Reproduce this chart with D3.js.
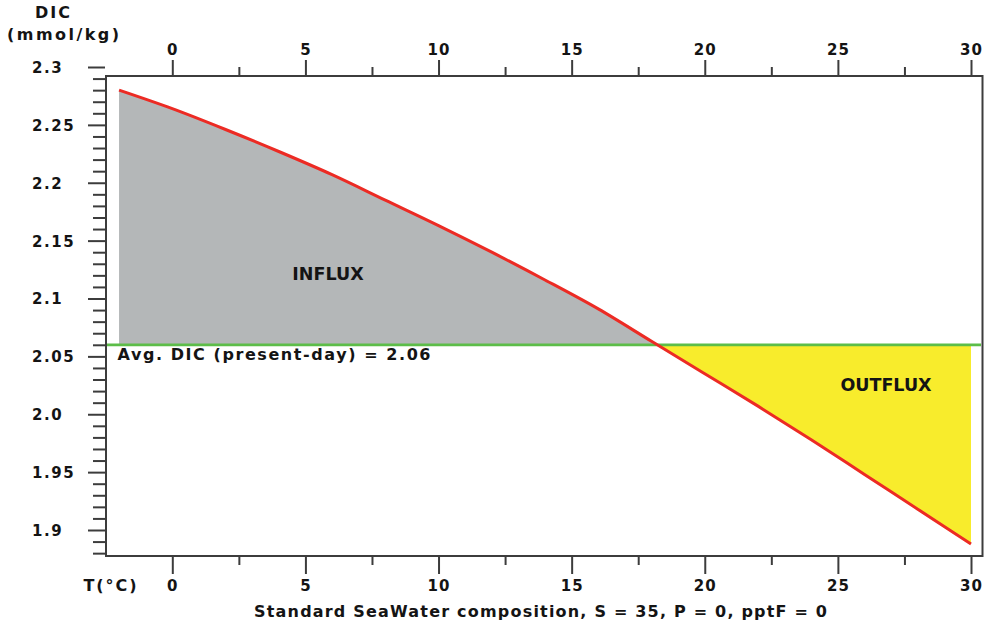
<!DOCTYPE html>
<html>
<head>
<meta charset="utf-8">
<script src="https://cdn.jsdelivr.net/npm/d3@7/dist/d3.min.js"></script>
<style>
  html, body { margin: 0; padding: 0; background: #ffffff; }
  svg { display: block; }
  text { font-family: "DejaVu Sans", Verdana, sans-serif; font-weight: bold; fill: #141414; }
</style>
</head>
<body>
<svg id="chart" width="988" height="626"></svg>
<script>
// Saturation DIC of standard seawater versus temperature
const temperatures = [-2, 0, 2, 4, 6, 8, 10, 12, 14, 16, 18, 20, 22, 24, 26, 28, 30];
const dicValues = [2.280, 2.264, 2.246, 2.227, 2.207, 2.185, 2.163, 2.140, 2.116, 2.091,
                   2.063, 2.035, 2.007, 1.978, 1.948, 1.918, 1.888];
const avgDIC = 2.06;

const xTickValues = [0, 5, 10, 15, 20, 25, 30];
const xMinorValues = [2.5, 7.5, 12.5, 17.5, 22.5, 27.5];
const yTickValues = [2.3, 2.25, 2.2, 2.15, 2.1, 2.05, 2.0, 1.95, 1.9];
const yTickLabels = ["2.3", "2.25", "2.2", "2.15", "2.1", "2.05", "2.0", "1.95", "1.9"];
const yMinorValues = [2.29, 2.28, 2.27, 2.26, 2.24, 2.23, 2.22, 2.21, 2.19, 2.18, 2.17, 2.16,
                      2.14, 2.13, 2.12, 2.11, 2.09, 2.08, 2.07, 2.06, 2.04, 2.03, 2.02, 2.01,
                      1.99, 1.98, 1.97, 1.96, 1.94, 1.93, 1.92, 1.91, 1.89, 1.88];

const data = temperatures.map((t, i) => ({ t, dic: dicValues[i] }));

// Plot frame
const frame = { left: 106, top: 76, right: 982.5, bottom: 556 };

const x = d3.scaleLinear().domain([0, 30]).range([172.3, 971]);
const y = d3.scaleLinear().domain([1.9, 2.3]).range([530, 67]);

const svg = d3.select("#chart");
const defs = svg.append("defs");

defs.append("clipPath").attr("id", "plotClip")
  .append("rect")
  .attr("x", frame.left).attr("y", frame.top)
  .attr("width", frame.right - frame.left).attr("height", frame.bottom - frame.top);

const plot = svg.append("g").attr("clip-path", "url(#plotClip)");

// Regions above / below the average line
const yAvg = y(avgDIC);
defs.append("clipPath").attr("id", "aboveAvg")
  .append("rect").attr("x", frame.left).attr("y", frame.top)
  .attr("width", frame.right - frame.left).attr("height", yAvg - frame.top);
defs.append("clipPath").attr("id", "belowAvg")
  .append("rect").attr("x", frame.left).attr("y", yAvg)
  .attr("width", frame.right - frame.left).attr("height", frame.bottom - yAvg);

const area = d3.area()
  .curve(d3.curveMonotoneX)
  .x(d => x(d.t))
  .y0(yAvg)
  .y1(d => y(d.dic));

plot.append("g").attr("clip-path", "url(#aboveAvg)")
  .append("path").datum(data)
  .attr("d", area)
  .attr("fill", "#b4b7b8");

plot.append("g").attr("clip-path", "url(#belowAvg)")
  .append("path").datum(data)
  .attr("d", area)
  .attr("fill", "#f8ec2c");

// Average line
plot.append("line")
  .attr("x1", frame.left).attr("x2", frame.right - 1.5)
  .attr("y1", yAvg).attr("y2", yAvg)
  .attr("stroke", "#5cbd48").attr("stroke-width", 2.8);

// DIC curve
plot.append("path").datum(data)
  .attr("d", d3.line().curve(d3.curveMonotoneX).x(d => x(d.t)).y(d => y(d.dic)))
  .attr("fill", "none")
  .attr("stroke", "#ec2b24")
  .attr("stroke-width", 3)
  .attr("stroke-linejoin", "round");

// Frame
svg.append("rect")
  .attr("x", frame.left).attr("y", frame.top)
  .attr("width", frame.right - frame.left).attr("height", frame.bottom - frame.top)
  .attr("fill", "none").attr("stroke", "#3c3c3c").attr("stroke-width", 2);

function styleAxis(g) {
  g.select(".domain").remove();
  g.selectAll(".tick line").attr("stroke", "#3c3c3c").attr("stroke-width", 2);
}

function styleTickText(sel) {
  sel.attr("font-family", null).attr("font-size", null).attr("fill", "#141414")
    .style("font-size", "15px");
}

// Left axis
const leftMajor = svg.append("g")
  .attr("transform", `translate(${frame.left - 1},0)`)
  .call(d3.axisLeft(y).tickValues(yTickValues).tickSize(17)
    .tickFormat((d, i) => yTickLabels[i]))
  .call(styleAxis);
leftMajor.selectAll(".tick text")
  .call(styleTickText)
  .attr("x", 32 - (frame.left - 1))
  .attr("text-anchor", "start")
  .attr("dy", "0.36em")
  .style("letter-spacing", "1.6px");

svg.append("g")
  .attr("transform", `translate(${frame.left - 1},0)`)
  .call(d3.axisLeft(y).tickValues(yMinorValues).tickSize(12).tickFormat(""))
  .call(styleAxis);

// Bottom axis
const bottomMajor = svg.append("g")
  .attr("transform", `translate(0,${frame.bottom})`)
  .call(d3.axisBottom(x).tickValues(xTickValues).tickSize(18).tickFormat(d3.format("d")))
  .call(styleAxis);
bottomMajor.selectAll(".tick text")
  .call(styleTickText)
  .attr("y", 590.7 - frame.bottom).attr("dy", 0)
  .style("letter-spacing", "1px");

svg.append("g")
  .attr("transform", `translate(0,${frame.bottom})`)
  .call(d3.axisBottom(x).tickValues(xMinorValues).tickSize(9).tickFormat(""))
  .call(styleAxis);

// Top axis
const topMajor = svg.append("g")
  .attr("transform", `translate(0,${frame.top})`)
  .call(d3.axisTop(x).tickValues(xTickValues).tickSize(16).tickFormat(d3.format("d")))
  .call(styleAxis);
topMajor.selectAll(".tick text")
  .call(styleTickText)
  .attr("y", 55 - frame.top).attr("dy", 0)
  .style("letter-spacing", "1px");

svg.append("g")
  .attr("transform", `translate(0,${frame.top})`)
  .call(d3.axisTop(x).tickValues(xMinorValues).tickSize(9).tickFormat(""))
  .call(styleAxis);

// Axis titles
svg.append("text").attr("x", 35).attr("y", 18.3)
  .attr("textLength", 35).attr("lengthAdjust", "spacing")
  .style("font-size", "16px").text("DIC");
svg.append("text").attr("x", 7).attr("y", 40)
  .attr("textLength", 112).attr("lengthAdjust", "spacing")
  .style("font-size", "16px").text("(mmol/kg)");
svg.append("text").attr("x", 83.5).attr("y", 590.7)
  .attr("textLength", 53).attr("lengthAdjust", "spacing")
  .style("font-size", "16px").text("T(°C)");
svg.append("text").attr("x", 254).attr("y", 617)
  .attr("textLength", 573).attr("lengthAdjust", "spacing")
  .style("font-size", "16px").text("Standard SeaWater composition, S = 35, P = 0, pptF = 0");

// Region and line labels
svg.append("text").attr("x", 117.5).attr("y", yAvg + 15.5)
  .attr("textLength", 313).attr("lengthAdjust", "spacing")
  .style("font-size", "16px").text(`Avg. DIC (present-day) = ${avgDIC.toFixed(2)}`);
svg.append("text").attr("x", 328).attr("y", 279.5).attr("text-anchor", "middle")
  .style("font-size", "17.5px").text("INFLUX");
svg.append("text").attr("x", 886).attr("y", 390.5).attr("text-anchor", "middle")
  .style("font-size", "17.5px").text("OUTFLUX");
</script>
</body>
</html>
